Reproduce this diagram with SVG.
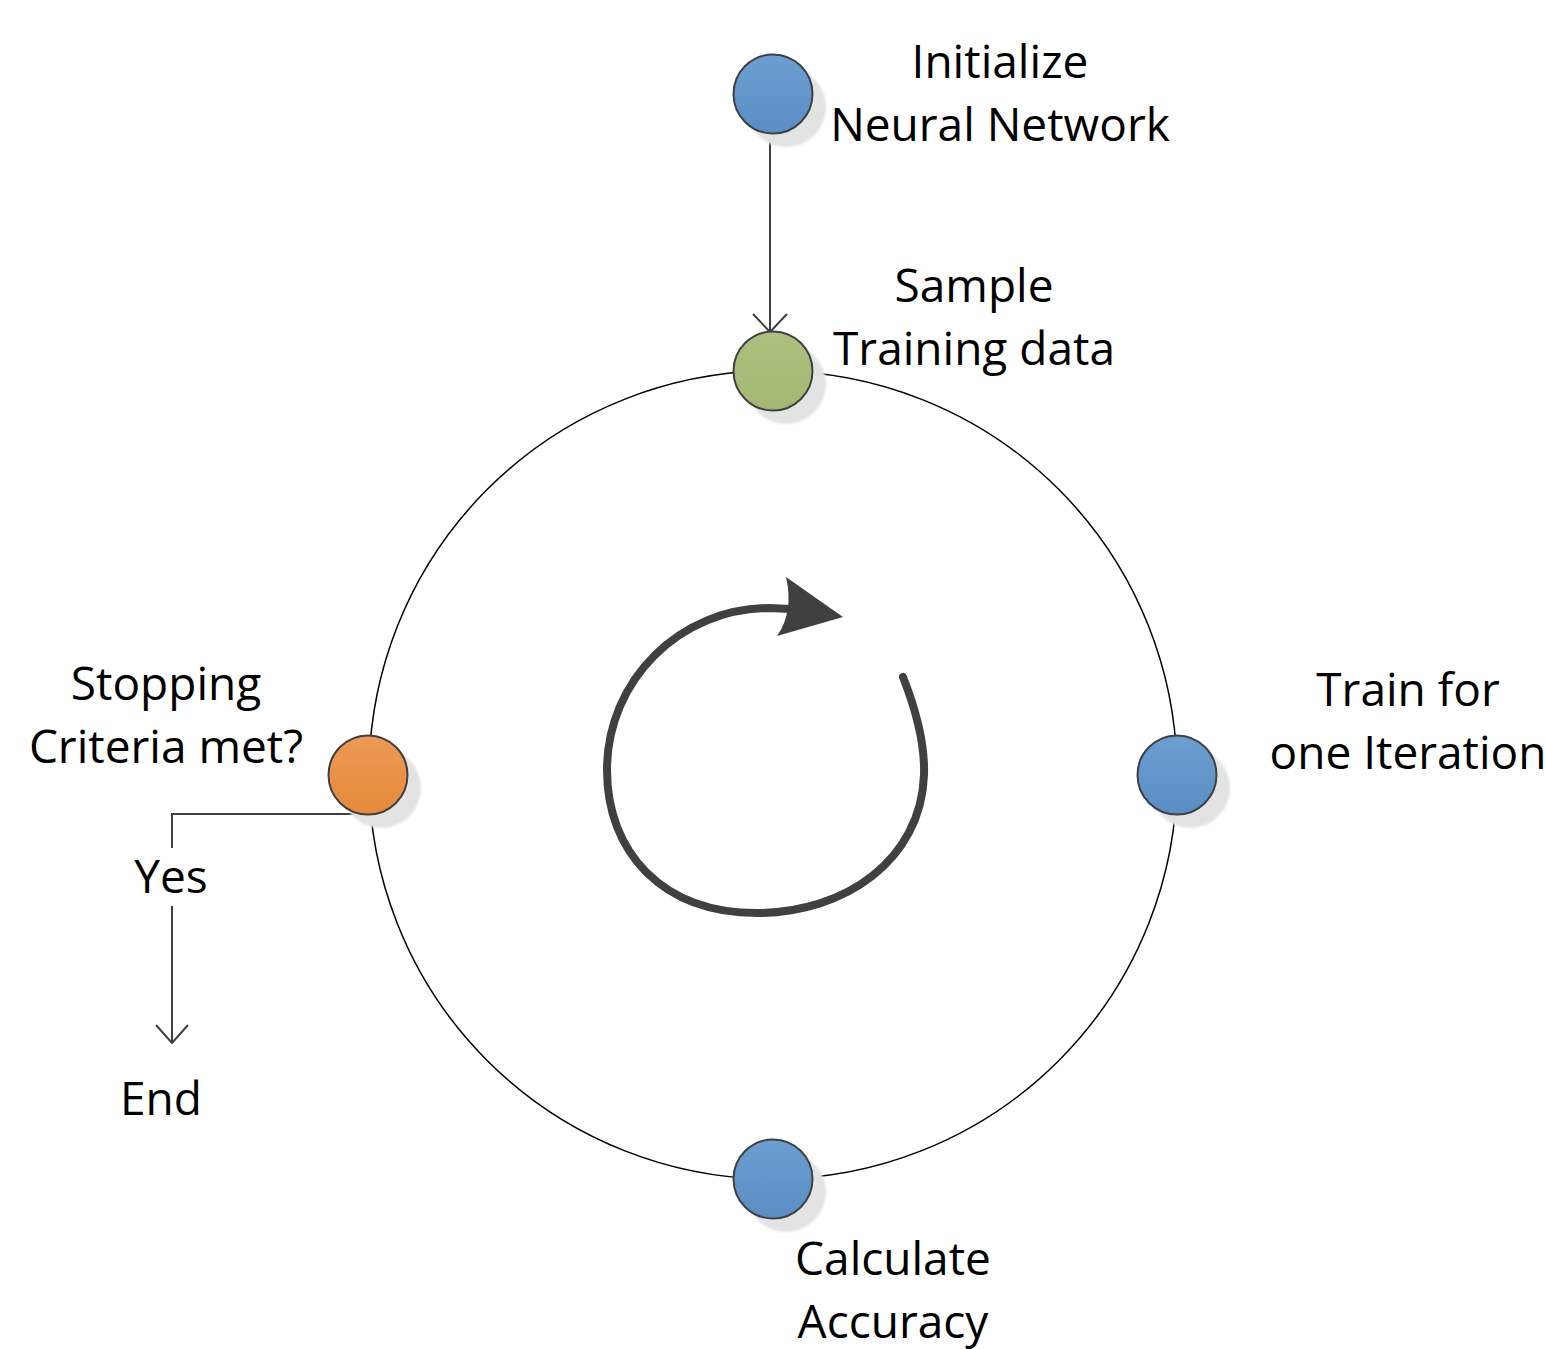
<svg xmlns="http://www.w3.org/2000/svg" width="1545" height="1349" viewBox="0 0 1545 1349">
<style>
text{font-family:"Open Sans",Lato,sans-serif;font-size:46px;fill:#000;text-anchor:middle}
.node{stroke:#404040;stroke-width:2}
.shadow{fill:#e3e3e3}
.conn{stroke:#404040;stroke-width:2;fill:none}
</style>
<defs>
<linearGradient id="gBlue" x1="0" y1="0" x2="0" y2="1"><stop offset="0" stop-color="#6b9fd1"/><stop offset="1" stop-color="#5a8dc4"/></linearGradient>
<linearGradient id="gGreen" x1="0" y1="0" x2="0" y2="1"><stop offset="0" stop-color="#adc07f"/><stop offset="1" stop-color="#a2b872"/></linearGradient>
<linearGradient id="gOrange" x1="0" y1="0" x2="0" y2="1"><stop offset="0" stop-color="#ec9a55"/><stop offset="1" stop-color="#e6893b"/></linearGradient>
<filter id="blur" x="-20%" y="-20%" width="140%" height="140%"><feGaussianBlur stdDeviation="1"/></filter>
</defs>
<rect width="1545" height="1349" fill="#fff"/>
<circle cx="773" cy="775" r="404" fill="none" stroke="#000" stroke-width="1.5"/>
<g id="loop">
<path d="M903 677 C918 715 925 745 924 775 C921 860 845 913 757 913 C662 913 607 852 607 770 C607 680 680 608 770 608 L790 609" fill="none" stroke="#404040" stroke-width="8" stroke-linecap="round"/>
<path d="M786 577 L843 617 L777 636 Q794 612 786 577 Z" fill="#404040"/>
</g>
<g id="connectors">
<line class="conn" x1="770" y1="135" x2="770" y2="332"/>
<polyline class="conn" points="753,314 770,332 787,314"/>
<polyline class="conn" points="368,814 172,814 172,1043"/>
<polyline class="conn" points="156,1025 172,1043 188,1025"/>
<rect x="128" y="848" width="88" height="58" fill="#fff"/>
<text x="171" y="893">Yes</text>
</g>
<g id="n-init">
<circle class="shadow" cx="786" cy="107" r="40" filter="url(#blur)"/>
<circle class="node" cx="773" cy="94" r="39.5" fill="url(#gBlue)"/>
<text x="1000" y="78">Initialize</text>
<text x="1000" y="141">Neural Network</text>
</g>
<g id="n-sample">
<circle class="shadow" cx="786" cy="384" r="40" filter="url(#blur)"/>
<circle class="node" cx="773" cy="371" r="39.5" fill="url(#gGreen)"/>
<text x="974" y="302">Sample</text>
<text x="974" y="365">Training data</text>
</g>
<g id="n-train">
<circle class="shadow" cx="1190" cy="788" r="40" filter="url(#blur)"/>
<circle class="node" cx="1177" cy="775" r="39.5" fill="url(#gBlue)"/>
<text x="1408" y="706">Train for</text>
<text x="1408" y="769">one Iteration</text>
</g>
<g id="n-acc">
<circle class="shadow" cx="786" cy="1192" r="40" filter="url(#blur)"/>
<circle class="node" cx="773" cy="1179" r="39.5" fill="url(#gBlue)"/>
<text x="893" y="1275">Calculate</text>
<text x="893" y="1338">Accuracy</text>
</g>
<g id="n-stop">
<circle class="shadow" cx="381" cy="788" r="40" filter="url(#blur)"/>
<circle class="node" cx="368" cy="775" r="39.5" fill="url(#gOrange)"/>
<text x="166" y="700">Stopping</text>
<text x="166" y="763">Criteria met?</text>
</g>
<g id="n-end">
<text x="161" y="1115">End</text>
</g>
</svg>
